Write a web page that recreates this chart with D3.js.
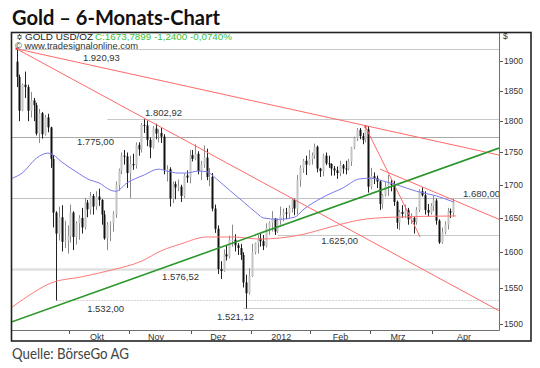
<!DOCTYPE html>
<html>
<head>
<meta charset="utf-8">
<script src="https://cdn.jsdelivr.net/npm/d3@7/dist/d3.min.js"></script>
<style>
  body { margin: 0; background: #fff; }
  svg { display: block; }
  text { font-family: "Liberation Sans", Arial, sans-serif; }
</style>
</head>
<body>
<div id="chart"></div>
<script>
// trading days shown (Sep 6 2011 .. Apr 12 2012)
var dates = [
  "2011-09-06","2011-09-07","2011-09-08","2011-09-09","2011-09-12","2011-09-13","2011-09-14","2011-09-15","2011-09-16","2011-09-19","2011-09-20","2011-09-21","2011-09-22","2011-09-23","2011-09-26","2011-09-27","2011-09-28","2011-09-29","2011-09-30",
  "2011-10-03","2011-10-04","2011-10-05","2011-10-06","2011-10-07","2011-10-10","2011-10-11","2011-10-12","2011-10-13","2011-10-14","2011-10-17","2011-10-18","2011-10-19","2011-10-20","2011-10-21","2011-10-24","2011-10-25","2011-10-26","2011-10-27","2011-10-28","2011-10-31",
  "2011-11-01","2011-11-02","2011-11-03","2011-11-04","2011-11-07","2011-11-08","2011-11-09","2011-11-10","2011-11-11","2011-11-14","2011-11-15","2011-11-16","2011-11-17","2011-11-18","2011-11-21","2011-11-22","2011-11-23","2011-11-24","2011-11-25","2011-11-28","2011-11-29","2011-11-30",
  "2011-12-01","2011-12-02","2011-12-05","2011-12-06","2011-12-07","2011-12-08","2011-12-09","2011-12-12","2011-12-13","2011-12-14","2011-12-15","2011-12-16","2011-12-19","2011-12-20","2011-12-21","2011-12-22","2011-12-23","2011-12-27","2011-12-28","2011-12-29","2011-12-30",
  "2012-01-03","2012-01-04","2012-01-05","2012-01-06","2012-01-09","2012-01-10","2012-01-11","2012-01-12","2012-01-13","2012-01-16","2012-01-17","2012-01-18","2012-01-19","2012-01-20","2012-01-23","2012-01-24","2012-01-25","2012-01-26","2012-01-27","2012-01-30","2012-01-31",
  "2012-02-01","2012-02-02","2012-02-03","2012-02-06","2012-02-07","2012-02-08","2012-02-09","2012-02-10","2012-02-13","2012-02-14","2012-02-15","2012-02-16","2012-02-17","2012-02-20","2012-02-21","2012-02-22","2012-02-23","2012-02-24","2012-02-27","2012-02-28","2012-02-29",
  "2012-03-01","2012-03-02","2012-03-05","2012-03-06","2012-03-07","2012-03-08","2012-03-09","2012-03-12","2012-03-13","2012-03-14","2012-03-15","2012-03-16","2012-03-19","2012-03-20","2012-03-21","2012-03-22","2012-03-23","2012-03-26","2012-03-27","2012-03-28","2012-03-29","2012-03-30",
  "2012-04-02","2012-04-03","2012-04-04","2012-04-05","2012-04-09","2012-04-10","2012-04-11","2012-04-12"
];

var open = [
  1899,1873,1817,1860,1856,1817,1834,1826,1780,1813,1779,1806,1790,1740,1658,1627,1651,1615,1617,
  1624,1658,1622,1642,1650,1636,1673,1663,1683,1667,1682,1677,1655,1620,1640,1642,1656,1700,1722,1745,1744,
  1718,1732,1730,1762,1755,1794,1793,1770,1758,1788,1780,1781,1775,1723,1724,1679,1701,1696,1697,1683,1714,1711,
  1746,1740,1748,1721,1731,1742,1712,1712,1664,1634,1576,1573,1597,1594,1618,1618,1610,1606,1596,1557,1542,
  1566,1600,1613,1620,1616,1609,1635,1643,1649,1630,1646,1654,1658,1657,1665,1677,1664,1707,1726,1737,1731,
  1740,1745,1759,1725,1721,1745,1733,1732,1725,1722,1718,1730,1725,1724,1736,1758,1773,1786,1776,1770,1787,
  1697,1713,1710,1705,1671,1684,1698,1702,1700,1674,1643,1659,1656,1662,1648,1650,1644,1662,1690,1684,1662,1658,
  1668,1676,1646,1614,1629,1640,1660,1658
];
var high = [
  1921,1877,1862,1882,1860,1848,1838,1830,1820,1815,1810,1812,1791,1746,1660,1667,1669,1646,1639,
  1670,1660,1645,1654,1665,1680,1677,1689,1686,1690,1694,1678,1661,1644,1645,1660,1705,1725,1750,1754,1750,
  1745,1748,1766,1766,1797,1803,1801,1774,1792,1796,1787,1790,1779,1730,1727,1705,1705,1708,1700,1717,1722,1754,
  1754,1763,1752,1737,1761,1756,1726,1718,1670,1639,1587,1604,1610,1624,1640,1626,1613,1612,1600,1568,1577,
  1612,1614,1625,1627,1625,1642,1645,1660,1650,1649,1667,1664,1665,1669,1680,1679,1715,1730,1740,1745,1754,
  1750,1764,1761,1726,1748,1750,1745,1733,1729,1728,1737,1732,1737,1740,1759,1775,1789,1789,1781,1791,1792,
  1726,1719,1714,1707,1686,1704,1715,1708,1706,1676,1662,1669,1670,1665,1657,1652,1666,1693,1696,1690,1671,1672,
  1683,1679,1648,1636,1645,1665,1664,1679
];
var low = [
  1856,1800,1816,1838,1800,1806,1800,1777,1765,1772,1777,1782,1726,1636,1532,1617,1601,1606,1598,
  1614,1603,1611,1618,1627,1633,1651,1655,1655,1662,1668,1640,1618,1603,1616,1630,1650,1691,1716,1731,1695,
  1680,1723,1725,1745,1750,1781,1760,1741,1756,1771,1766,1765,1716,1705,1667,1672,1678,1690,1674,1680,1703,1702,
  1736,1738,1716,1707,1726,1707,1698,1660,1628,1569,1562,1572,1588,1591,1608,1601,1596,1589,1550,1521,1540,
  1565,1597,1598,1608,1603,1607,1625,1630,1625,1628,1640,1645,1648,1650,1658,1654,1655,1697,1718,1715,1730,
  1731,1740,1719,1712,1713,1730,1726,1714,1714,1709,1713,1717,1716,1722,1729,1755,1768,1771,1763,1766,1688,
  1693,1701,1695,1662,1664,1682,1683,1690,1668,1634,1632,1650,1650,1640,1641,1627,1640,1659,1682,1655,1652,1655,
  1660,1640,1612,1612,1626,1633,1650,1652
];
var close = [
  1873,1817,1860,1856,1817,1834,1826,1780,1813,1779,1806,1790,1740,1658,1627,1651,1615,1617,1624,
  1658,1622,1642,1650,1636,1673,1663,1683,1667,1682,1677,1655,1620,1640,1642,1656,1700,1722,1745,1744,1718,
  1732,1730,1762,1755,1794,1793,1770,1758,1788,1780,1781,1775,1723,1724,1679,1701,1696,1697,1683,1714,1711,1746,
  1740,1748,1721,1731,1742,1712,1712,1664,1634,1576,1573,1597,1594,1618,1618,1610,1606,1596,1557,1542,1566,
  1600,1613,1620,1616,1609,1635,1643,1649,1630,1646,1654,1658,1657,1665,1677,1664,1707,1726,1737,1731,1740,
  1745,1759,1725,1721,1745,1733,1732,1725,1722,1718,1730,1725,1724,1736,1758,1773,1786,1776,1770,1787,1697,
  1713,1710,1705,1671,1684,1698,1702,1700,1674,1643,1659,1656,1662,1648,1650,1644,1662,1690,1684,1662,1658,1668,
  1676,1646,1614,1629,1640,1660,1658,1674
];

// moving averages (day index, price)
var maBlueIdx = [-1.5,2,7,11,13,16,21,26,29,33,35,39,45,50,53,57,60,64,67,71,75,80,85,87,92,98,101,108,115,121,125,129,134,141,148,154];
var maBlue    = [1710,1718,1741,1749,1746,1735,1720,1707,1703,1692,1690,1703,1715,1724,1721,1718,1718,1721,1720,1707,1692,1674,1656,1650,1648,1651,1662,1681,1695,1709,1710,1706,1700,1690,1683,1674];
var maRedIdx  = [-1.5,4,12,23,34,44,51,58,67,76,86,100,111,121,132,155];
var maRed     = [1523,1538,1556,1565,1575,1587,1602,1612,1622,1622,1619,1625,1637,1647,1651,1653];

// horizontal levels and where they start (day index)
var levels      = [1920.93, 1802.92, 1775.00, 1680.00, 1625.00, 1576.52, 1532.00, 1521.12];
var levelFrom   = [0, 32, -1.6, -1.6, 92, -1.6, 14, 80];
var levelLabels = ["1.920,93","1.802,92","1.775,00","1.680,00","1.625,00","1.576,52","1.532,00","1.521,12"];

// trend lines: [startIdx, startPrice, endIdx, endPrice]
var redLines = [
  [0, 1920.93, 170.1, 1746],
  [0, 1920.93, 170.1, 1518],
  [123, 1791, 142.3, 1622],
  [128.2, 1724, 170.1, 1648]
];
var greenLine = [-1.6, 1503, 170.1, 1757];

var yTicks = [1500, 1550, 1600, 1650, 1700, 1750, 1800, 1850, 1900];
var monthLabels = ["Okt", "Nov", "Dez", "2012", "Feb", "Mrz", "Apr"];
var monthLabelIdx = [28.4, 49.2, 71.1, 93.3, 114.2, 134.5, 157.8];

var W = 540, H = 368;
var plot = {left: 12, right: 499, top: 32, bottom: 330};

var svg = d3.select("#chart").append("svg")
    .attr("width", W)
    .attr("height", H);

var x = d3.scaleLinear().domain([-1.6, 170.1]).range([plot.left, plot.right]);
var y = d3.scaleLog().domain([1491.9, 1950.2]).range([plot.bottom, plot.top]);

svg.append("clipPath").attr("id", "clip")
  .append("rect")
    .attr("x", plot.left).attr("y", plot.top)
    .attr("width", plot.right - plot.left).attr("height", plot.bottom - plot.top);

// title
svg.append("text")
    .attr("x", 12).attr("y", 25)
    .attr("textLength", 208).attr("lengthAdjust", "spacingAndGlyphs")
    .style("font-family", "Lato, 'Open Sans', sans-serif")
    .style("font-weight", "bold").style("font-size", "21px").style("fill", "#111")
    .text("Gold – 6-Monats-Chart");

svg.append("text")
    .attr("x", 12).attr("y", 359)
    .attr("textLength", 117).attr("lengthAdjust", "spacingAndGlyphs")
    .style("font-family", "Lato, 'Open Sans', sans-serif")
    .style("font-size", "15px").style("fill", "#444")
    .text("Quelle: BörseGo AG");

var g = svg.append("g").attr("clip-path", "url(#clip)");

// level lines
var levelStyle = [
  {c: "#c8c8c8", w: 1}, {c: "#c8c8c8", w: 1}, {c: "#aaaaaa", w: 1.2}, {c: "#c0c0c0", w: 1},
  {c: "#c8c8c8", w: 1}, {c: "#e0e0e0", w: 2.5}, {c: "#d2d2d2", w: 1}, {c: "#c8c8c8", w: 1}
];
g.selectAll(".level").data(levels).join("line")
    .attr("x1", (d, i) => x(levelFrom[i]))
    .attr("x2", plot.right)
    .attr("y1", d => Math.round(y(d)) + 0.5)
    .attr("y2", d => Math.round(y(d)) + 0.5)
    .attr("stroke", (d, i) => levelStyle[i].c)
    .attr("stroke-width", (d, i) => levelStyle[i].w)
    .attr("stroke-dasharray", (d, i) => i == 6 ? "2,1" : null);

// candles
var idx = d3.range(dates.length);
g.selectAll(".wick").data(idx).join("line")
    .attr("x1", i => Math.round(x(i)) + 0.5)
    .attr("x2", i => Math.round(x(i)) + 0.5)
    .attr("y1", i => y(high[i]))
    .attr("y2", i => y(low[i]))
    .attr("stroke", i => close[i] >= open[i] ? "#8a8a8a" : "#222")
    .attr("stroke-width", 1);

g.selectAll(".body").data(idx).join("rect")
    .attr("x", i => Math.round(x(i)) - 0.5)
    .attr("width", 2)
    .attr("y", i => y(Math.max(open[i], close[i])))
    .attr("height", i => Math.max(1, Math.abs(y(open[i]) - y(close[i]))))
    .attr("fill", i => close[i] >= open[i] ? "#c4c4c4" : "#111");

// moving averages
var line = d3.line().x(d => x(d[0])).y(d => y(d[1])).curve(d3.curveMonotoneX);
g.append("path")
    .attr("d", line(maRedIdx.map((v, i) => [v, maRed[i]])))
    .attr("fill", "none").attr("stroke", "#ff7878").attr("stroke-width", 1);
g.append("path")
    .attr("d", line(maBlueIdx.map((v, i) => [v, maBlue[i]])))
    .attr("fill", "none").attr("stroke", "#7878ee").attr("stroke-width", 1);

// trend lines
g.selectAll(".trend").data(redLines).join("line")
    .attr("x1", d => x(d[0])).attr("y1", d => y(d[1]))
    .attr("x2", d => x(d[2])).attr("y2", d => y(d[3]))
    .attr("stroke", "#ff6a6a").attr("stroke-width", 1);
g.append("line")
    .attr("x1", x(greenLine[0])).attr("y1", y(greenLine[1]))
    .attr("x2", x(greenLine[2])).attr("y2", y(greenLine[3]))
    .attr("stroke", "#2a962a").attr("stroke-width", 1.6);

// small anchor marks on the red lines
g.selectAll(".anchor").data([redLines[0], redLines[2]]).join("rect")
    .attr("x", d => x(d[0]) - 1).attr("y", d => y(d[1]) - 1)
    .attr("width", 2).attr("height", 2).attr("fill", "#ff3030");

// level labels
var labelPos = [
  {i: 23.4, dy: 12}, {i: 45.3, dy: -3}, {i: 21.3, dy: 8}, {i: 157.4, dy: -1},
  {i: 107.4, dy: 9}, {i: 51.3, dy: 11}, {i: 24.9, dy: 11.5}, {i: 70.7, dy: 11.6}
];
svg.selectAll(".lvl").data(levels).join("text")
    .attr("x", (d, i) => x(labelPos[i].i))
    .attr("y", (d, i) => y(d) + labelPos[i].dy)
    .attr("textLength", 37).attr("lengthAdjust", "spacingAndGlyphs")
    .style("font-size", "9.5px").style("fill", "#333")
    .text((d, i) => levelLabels[i]);

// header texts inside chart
svg.append("line").attr("x1", 19.5).attr("x2", 19.5).attr("y1", 34).attr("y2", 40)
    .attr("stroke", "#444");
svg.append("rect").attr("x", 18).attr("y", 35.5).attr("width", 3).attr("height", 3)
    .attr("fill", "#fff").attr("stroke", "#444").attr("stroke-width", 0.8);
svg.append("text").attr("x", 25).attr("y", 39.5)
    .attr("textLength", 68).attr("lengthAdjust", "spacingAndGlyphs")
    .style("font-size", "9.5px").style("fill", "#222")
    .text("GOLD USD/OZ");
svg.append("text").attr("x", 95).attr("y", 39.5)
    .attr("textLength", 137).attr("lengthAdjust", "spacingAndGlyphs")
    .style("font-size", "9.5px").style("fill", "#3cc03c")
    .text("C:1673,7899 -1,2400 -0,0740%");
svg.append("text").attr("x", 15).attr("y", 49)
    .attr("textLength", 123).attr("lengthAdjust", "spacingAndGlyphs")
    .style("font-size", "9.5px").style("fill", "#333")
    .text("© www.tradesignalonline.com");

// y axis
svg.append("line")
    .attr("x1", plot.right + 0.5).attr("x2", plot.right + 0.5)
    .attr("y1", plot.top).attr("y2", plot.bottom + 0.5)
    .attr("stroke", "#707070");
svg.selectAll(".ytick").data(yTicks).join("line")
    .attr("x1", plot.right + 1).attr("x2", plot.right + 4)
    .attr("y1", d => Math.round(y(d)) + 0.5).attr("y2", d => Math.round(y(d)) + 0.5)
    .attr("stroke", "#555");
svg.selectAll(".ylab").data(yTicks).join("text")
    .attr("x", 504).attr("y", d => y(d) + 3)
    .style("font-size", "8.5px").style("fill", "#333")
    .text(d => d);
svg.append("text").attr("x", 503).attr("y", 39)
    .style("font-size", "8.5px").style("fill", "#333").text("$");

// x axis
svg.append("line")
    .attr("x1", plot.left).attr("x2", plot.right + 0.5)
    .attr("y1", plot.bottom + 0.5).attr("y2", plot.bottom + 0.5)
    .attr("stroke", "#707070");
var monthTicks = idx.filter(i => i > 0 && dates[i].slice(5, 7) != dates[i - 1].slice(5, 7)).map(i => i - 0.5);
svg.selectAll(".xtick").data(monthTicks).join("line")
    .attr("x1", d => Math.round(x(d)) + 0.5).attr("x2", d => Math.round(x(d)) + 0.5)
    .attr("y1", plot.bottom + 1).attr("y2", plot.bottom + 4)
    .attr("stroke", "#555");
svg.selectAll(".xlab").data(monthLabels).join("text")
    .attr("x", (d, i) => x(monthLabelIdx[i]))
    .attr("y", 339.5)
    .attr("text-anchor", "middle")
    .style("font-size", "9px").style("fill", "#333")
    .text(d => d);

// outer frame
svg.append("rect")
    .attr("x", 11.5).attr("y", 32.5).attr("width", 519.5).attr("height", 308.5)
    .attr("fill", "none").attr("stroke", "#222").attr("stroke-width", 1.6);
</script>
</body>
</html>
